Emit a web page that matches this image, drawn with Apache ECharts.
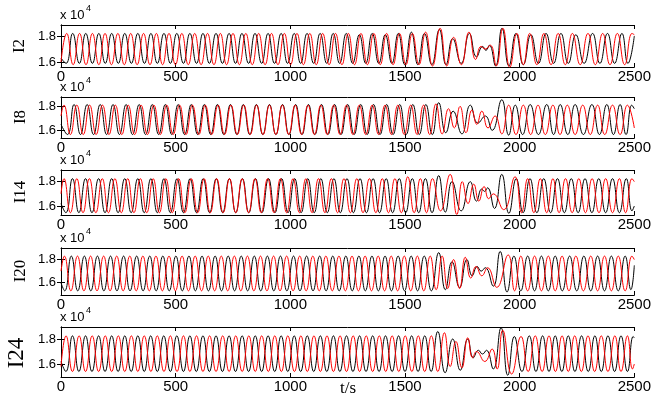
<!DOCTYPE html>
<html><head><meta charset="utf-8">
<script src="https://cdn.jsdelivr.net/npm/echarts@6/dist/echarts.min.js"></script>
<style>html,body{margin:0;padding:0;background:#fff}#c{width:654px;height:398px}</style>
</head><body><div id="c"></div>
<script>
// values in units of 1e4, time in s
const xTicks = [0, 500, 1000, 1500, 2000, 2500];
const yTicks = [1.6, 1.8];
const panelNames = ['I2', 'I8', 'I14', 'I20', 'I24'];

const i2Black = [[0,1.63],[22,1.59],[51,1.82],[80,1.59],[108,1.82],[137,1.59],[165,1.82],[193,1.59],[221,1.82],[250,1.59],[278,1.82],[307,1.59],[335,1.82],[364,1.59],[392,1.82],[420,1.59],[449,1.82],[477,1.59],[505,1.82],[534,1.59],[562,1.82],[591,1.59],[619,1.82],[647,1.59],[676,1.82],[704,1.59],[733,1.82],[761,1.59],[789,1.82],[818,1.59],[846,1.82],[875,1.59],[903,1.82],[931,1.59],[960,1.82],[988,1.59],[1017,1.82],[1045,1.59],[1073,1.82],[1102,1.59],[1130,1.82],[1159,1.59],[1187,1.82],[1215,1.59],[1244,1.82],[1272,1.59],[1301,1.81],[1329,1.59],[1357,1.82],[1386,1.59],[1414,1.81],[1443,1.59],[1471,1.82],[1499,1.58],[1528,1.83],[1556,1.58],[1585,1.82],[1617,1.58],[1650,1.85],[1679,1.58],[1708,1.78],[1745,1.59],[1781,1.82],[1812,1.64],[1839,1.72],[1853,1.69],[1868,1.73],[1895,1.57],[1923,1.86],[1953,1.57],[1984,1.82],[2016,1.58],[2049,1.81],[2082,1.59],[2115,1.82],[2148,1.59],[2180,1.82],[2212,1.59],[2245,1.81],[2281,1.59],[2318,1.82],[2350,1.59],[2383,1.82],[2414,1.59],[2446,1.82],[2472,1.59],[2500,1.80]];
const i2Red = [[0,1.60],[25,1.82],[53,1.58],[81,1.82],[109,1.58],[137,1.82],[165,1.58],[192,1.82],[220,1.58],[248,1.82],[276,1.58],[304,1.82],[332,1.58],[360,1.82],[388,1.58],[416,1.82],[443,1.58],[471,1.82],[499,1.58],[527,1.82],[555,1.58],[583,1.82],[611,1.58],[639,1.82],[667,1.58],[695,1.82],[722,1.58],[750,1.82],[778,1.58],[806,1.82],[834,1.58],[862,1.82],[890,1.58],[918,1.82],[946,1.58],[974,1.82],[1001,1.58],[1029,1.82],[1057,1.58],[1085,1.82],[1113,1.58],[1141,1.82],[1169,1.58],[1197,1.82],[1225,1.58],[1253,1.82],[1280,1.58],[1308,1.82],[1336,1.58],[1364,1.82],[1392,1.58],[1420,1.82],[1448,1.58],[1476,1.82],[1504,1.58],[1532,1.82],[1561,1.58],[1590,1.83],[1620,1.57],[1653,1.86],[1682,1.57],[1712,1.79],[1746,1.58],[1779,1.83],[1808,1.62],[1832,1.72],[1850,1.70],[1872,1.73],[1898,1.57],[1927,1.86],[1957,1.56],[1988,1.82],[2016,1.58],[2044,1.82],[2075,1.58],[2106,1.82],[2137,1.58],[2168,1.82],[2199,1.58],[2230,1.82],[2264,1.58],[2298,1.82],[2330,1.58],[2362,1.82],[2394,1.58],[2426,1.82],[2458,1.58],[2490,1.82],[2500,1.81]];

const i8Black = [[0,1.65],[28,1.565],[57,1.815],[85,1.565],[114,1.815],[142,1.565],[171,1.815],[199,1.565],[227,1.815],[255,1.565],[284,1.815],[312,1.565],[341,1.815],[369,1.565],[398,1.815],[426,1.565],[455,1.815],[483,1.565],[511,1.815],[539,1.565],[568,1.815],[596,1.565],[625,1.815],[653,1.565],[682,1.815],[710,1.565],[739,1.815],[767,1.565],[795,1.815],[823,1.565],[852,1.815],[880,1.565],[909,1.815],[937,1.565],[966,1.815],[994,1.565],[1023,1.815],[1051,1.565],[1079,1.815],[1107,1.565],[1136,1.815],[1164,1.565],[1193,1.815],[1221,1.565],[1250,1.815],[1278,1.565],[1307,1.815],[1335,1.565],[1363,1.815],[1391,1.565],[1420,1.815],[1448,1.565],[1477,1.815],[1505,1.565],[1534,1.815],[1562,1.565],[1591,1.815],[1619,1.565],[1647,1.83],[1678,1.58],[1710,1.76],[1748,1.57],[1785,1.81],[1818,1.66],[1850,1.72],[1880,1.60],[1922,1.855],[1952,1.56],[1981,1.81],[2013,1.565],[2046,1.815],[2082,1.565],[2118,1.815],[2148,1.565],[2177,1.815],[2210,1.565],[2242,1.815],[2278,1.565],[2315,1.815],[2348,1.565],[2380,1.815],[2409,1.565],[2438,1.815],[2464,1.565],[2489,1.81],[2500,1.78]];
const i8Red = [[0,1.72],[13,1.81],[41,1.565],[69,1.81],[97,1.565],[125,1.81],[153,1.565],[181,1.81],[209,1.565],[237,1.81],[265,1.565],[293,1.81],[321,1.565],[349,1.81],[377,1.565],[405,1.81],[433,1.565],[461,1.81],[489,1.565],[517,1.81],[545,1.565],[573,1.81],[601,1.565],[629,1.81],[657,1.565],[685,1.81],[713,1.565],[741,1.81],[769,1.565],[797,1.81],[825,1.565],[853,1.81],[881,1.565],[909,1.81],[937,1.565],[965,1.81],[993,1.565],[1021,1.81],[1049,1.565],[1077,1.81],[1105,1.565],[1133,1.81],[1161,1.565],[1189,1.81],[1217,1.565],[1245,1.81],[1273,1.565],[1301,1.81],[1329,1.565],[1357,1.81],[1385,1.565],[1413,1.81],[1441,1.565],[1469,1.81],[1497,1.565],[1525,1.81],[1553,1.565],[1581,1.81],[1608,1.565],[1635,1.82],[1662,1.57],[1690,1.78],[1715,1.62],[1740,1.80],[1766,1.58],[1792,1.77],[1813,1.65],[1835,1.76],[1862,1.62],[1893,1.72],[1922,1.57],[1952,1.81],[1984,1.565],[2016,1.81],[2048,1.565],[2080,1.81],[2112,1.565],[2145,1.81],[2176,1.565],[2208,1.81],[2242,1.565],[2275,1.81],[2308,1.565],[2340,1.81],[2371,1.565],[2405,1.81],[2438,1.565],[2470,1.81],[2500,1.62]];

const i14Black = [[0,1.62],[21,1.545],[50,1.825],[78,1.545],[107,1.825],[135,1.545],[164,1.825],[192,1.545],[221,1.825],[249,1.545],[278,1.825],[306,1.545],[335,1.825],[363,1.545],[392,1.825],[420,1.545],[449,1.825],[477,1.545],[506,1.825],[534,1.545],[563,1.825],[591,1.545],[620,1.825],[648,1.545],[677,1.825],[705,1.545],[734,1.825],[762,1.545],[791,1.825],[819,1.545],[848,1.825],[876,1.545],[905,1.825],[933,1.545],[962,1.825],[990,1.545],[1019,1.825],[1047,1.545],[1076,1.825],[1104,1.545],[1133,1.825],[1161,1.545],[1190,1.825],[1218,1.545],[1247,1.825],[1275,1.545],[1304,1.825],[1332,1.545],[1361,1.825],[1389,1.545],[1418,1.825],[1446,1.545],[1475,1.825],[1503,1.545],[1532,1.825],[1560,1.545],[1589,1.825],[1618,1.545],[1647,1.85],[1676,1.55],[1705,1.80],[1745,1.56],[1785,1.80],[1812,1.64],[1835,1.74],[1847,1.72],[1860,1.75],[1890,1.58],[1922,1.86],[1953,1.54],[1985,1.825],[2015,1.545],[2045,1.825],[2075,1.545],[2105,1.825],[2135,1.545],[2165,1.825],[2195,1.545],[2225,1.825],[2255,1.545],[2285,1.825],[2315,1.545],[2345,1.825],[2375,1.545],[2405,1.825],[2435,1.545],[2465,1.825],[2490,1.56],[2500,1.60]];
const i14Red = [[0,1.70],[13,1.825],[41,1.545],[69,1.825],[96,1.545],[124,1.825],[152,1.545],[180,1.825],[207,1.545],[235,1.825],[263,1.545],[291,1.825],[318,1.545],[346,1.825],[374,1.545],[402,1.825],[429,1.545],[457,1.825],[485,1.545],[513,1.825],[540,1.545],[568,1.825],[596,1.545],[624,1.825],[651,1.545],[679,1.825],[707,1.545],[735,1.825],[762,1.545],[790,1.825],[818,1.545],[846,1.825],[873,1.545],[901,1.825],[929,1.545],[957,1.825],[984,1.545],[1012,1.825],[1040,1.545],[1068,1.825],[1095,1.545],[1123,1.825],[1151,1.545],[1179,1.825],[1206,1.545],[1234,1.825],[1262,1.545],[1290,1.825],[1317,1.545],[1345,1.825],[1373,1.545],[1401,1.825],[1428,1.545],[1456,1.825],[1484,1.545],[1512,1.84],[1540,1.545],[1567,1.825],[1594,1.545],[1620,1.825],[1655,1.56],[1697,1.86],[1726,1.53],[1750,1.80],[1775,1.62],[1800,1.78],[1822,1.64],[1845,1.76],[1865,1.66],[1885,1.70],[1930,1.57],[1980,1.84],[2008,1.545],[2035,1.825],[2062,1.545],[2090,1.825],[2118,1.545],[2145,1.825],[2172,1.545],[2200,1.825],[2229,1.545],[2258,1.825],[2287,1.545],[2316,1.825],[2346,1.545],[2375,1.825],[2405,1.545],[2435,1.825],[2462,1.545],[2490,1.825],[2500,1.80]];

const i20Black = [[0,1.60],[16,1.53],[45,1.83],[73,1.53],[102,1.83],[130,1.53],[159,1.83],[187,1.53],[216,1.83],[244,1.53],[273,1.83],[301,1.53],[330,1.83],[358,1.53],[387,1.83],[415,1.53],[444,1.83],[472,1.53],[501,1.83],[529,1.53],[558,1.83],[586,1.53],[615,1.83],[643,1.53],[672,1.83],[700,1.53],[729,1.83],[757,1.53],[786,1.83],[814,1.53],[843,1.83],[871,1.53],[900,1.83],[928,1.53],[957,1.83],[985,1.53],[1014,1.83],[1042,1.53],[1071,1.83],[1099,1.53],[1128,1.83],[1156,1.53],[1185,1.83],[1213,1.53],[1242,1.83],[1270,1.53],[1299,1.83],[1327,1.53],[1356,1.83],[1384,1.53],[1413,1.83],[1441,1.53],[1470,1.83],[1498,1.53],[1527,1.83],[1555,1.53],[1584,1.83],[1615,1.53],[1647,1.86],[1676,1.54],[1705,1.78],[1738,1.56],[1770,1.80],[1793,1.66],[1815,1.74],[1832,1.70],[1850,1.73],[1885,1.57],[1915,1.87],[1945,1.52],[1975,1.83],[2005,1.53],[2035,1.83],[2065,1.53],[2095,1.83],[2125,1.53],[2155,1.83],[2186,1.53],[2218,1.83],[2249,1.53],[2280,1.83],[2310,1.53],[2340,1.83],[2370,1.53],[2400,1.83],[2430,1.53],[2460,1.83],[2485,1.54],[2500,1.75]];
const i20Red = [[0,1.70],[15,1.83],[43,1.53],[72,1.83],[100,1.53],[129,1.83],[157,1.53],[186,1.83],[214,1.53],[243,1.83],[271,1.53],[300,1.83],[328,1.53],[357,1.83],[385,1.53],[414,1.83],[442,1.53],[471,1.83],[499,1.53],[528,1.83],[556,1.53],[585,1.83],[613,1.53],[642,1.83],[670,1.53],[699,1.83],[727,1.53],[756,1.83],[784,1.53],[813,1.83],[841,1.53],[870,1.83],[898,1.53],[927,1.83],[955,1.53],[984,1.83],[1012,1.53],[1041,1.83],[1069,1.53],[1098,1.83],[1126,1.53],[1155,1.83],[1183,1.53],[1212,1.83],[1240,1.53],[1269,1.83],[1297,1.53],[1326,1.83],[1354,1.53],[1383,1.83],[1411,1.53],[1440,1.83],[1468,1.53],[1497,1.83],[1525,1.53],[1554,1.83],[1582,1.53],[1610,1.83],[1636,1.54],[1662,1.83],[1686,1.55],[1712,1.80],[1738,1.55],[1763,1.82],[1787,1.64],[1810,1.74],[1835,1.66],[1860,1.73],[1900,1.56],[1950,1.84],[1978,1.53],[2005,1.83],[2035,1.53],[2065,1.83],[2095,1.53],[2125,1.83],[2155,1.53],[2185,1.83],[2215,1.53],[2245,1.83],[2278,1.53],[2310,1.83],[2340,1.53],[2370,1.83],[2400,1.53],[2430,1.83],[2460,1.53],[2490,1.83],[2500,1.80]];

const i24Black = [[0,1.62],[21,1.54],[50,1.825],[78,1.54],[107,1.825],[135,1.54],[164,1.825],[192,1.54],[221,1.825],[249,1.54],[278,1.825],[306,1.54],[335,1.825],[363,1.54],[391,1.825],[420,1.54],[448,1.825],[477,1.54],[505,1.825],[534,1.54],[562,1.825],[590,1.54],[619,1.825],[647,1.54],[676,1.825],[704,1.54],[733,1.825],[761,1.54],[790,1.825],[818,1.54],[847,1.825],[875,1.54],[903,1.825],[932,1.54],[960,1.825],[989,1.54],[1017,1.825],[1045,1.54],[1074,1.825],[1102,1.54],[1131,1.825],[1159,1.54],[1188,1.825],[1216,1.54],[1245,1.825],[1273,1.54],[1302,1.825],[1330,1.54],[1359,1.825],[1387,1.54],[1415,1.825],[1444,1.54],[1472,1.825],[1500,1.54],[1529,1.825],[1557,1.54],[1586,1.825],[1614,1.54],[1643,1.86],[1675,1.53],[1708,1.80],[1741,1.55],[1774,1.80],[1798,1.65],[1820,1.71],[1838,1.68],[1855,1.71],[1885,1.56],[1919,1.89],[1948,1.51],[1977,1.82],[2010,1.54],[2042,1.825],[2071,1.54],[2100,1.825],[2128,1.54],[2155,1.825],[2184,1.54],[2212,1.825],[2241,1.54],[2270,1.825],[2299,1.54],[2328,1.825],[2356,1.54],[2385,1.825],[2414,1.54],[2442,1.825],[2470,1.54],[2495,1.82],[2500,1.81]];
const i24Red = [[0,1.58],[22,1.825],[50,1.54],[79,1.825],[107,1.54],[136,1.825],[164,1.54],[193,1.825],[221,1.54],[250,1.825],[278,1.54],[307,1.825],[335,1.54],[363,1.825],[392,1.54],[420,1.825],[449,1.54],[477,1.825],[506,1.54],[534,1.825],[562,1.54],[591,1.825],[619,1.54],[648,1.825],[676,1.54],[705,1.825],[733,1.54],[762,1.825],[790,1.54],[819,1.825],[847,1.54],[875,1.825],[904,1.54],[932,1.825],[961,1.54],[989,1.825],[1018,1.54],[1046,1.825],[1074,1.54],[1103,1.825],[1131,1.54],[1160,1.825],[1188,1.54],[1217,1.825],[1245,1.54],[1274,1.825],[1302,1.54],[1331,1.825],[1359,1.54],[1388,1.825],[1416,1.54],[1444,1.825],[1473,1.54],[1501,1.825],[1530,1.54],[1558,1.825],[1586,1.54],[1615,1.825],[1643,1.54],[1672,1.85],[1697,1.58],[1722,1.78],[1748,1.57],[1774,1.81],[1795,1.65],[1812,1.70],[1848,1.62],[1880,1.72],[1902,1.56],[1926,1.87],[1965,1.52],[2006,1.82],[2037,1.54],[2068,1.825],[2098,1.54],[2128,1.825],[2156,1.54],[2185,1.825],[2212,1.54],[2240,1.825],[2269,1.54],[2298,1.825],[2327,1.54],[2356,1.825],[2385,1.54],[2415,1.825],[2442,1.54],[2470,1.825],[2492,1.56],[2500,1.60]];

const blackSeries = [i2Black, i8Black, i14Black, i20Black, i24Black];
const redSeries = [i2Red, i8Red, i14Red, i20Red, i24Red];
const yMins = [1.562, 1.536, 1.526, 1.494, 1.496];
const yMaxs = [1.885, 1.878, 1.896, 1.900, 1.896];

// layout (pixels)
const layout = [
  {top: 25, height: 42, nameX: 20, nameY: 46, nameSize: 17},
  {top: 97, height: 41, nameX: 21, nameY: 117, nameSize: 17},
  {top: 170, height: 45, nameX: 21, nameY: 192, nameSize: 17},
  {top: 248, height: 47, nameX: 21, nameY: 271, nameSize: 17},
  {top: 327, height: 50, nameX: 17, nameY: 353, nameSize: 23}
];
const LEFT = 61, RIGHT = 18;
const sans = 'Liberation Sans, Arial, Helvetica, sans-serif';
const serif = 'Liberation Serif, Times New Roman, serif';

const grids = [], xAxes = [], yAxes = [], series = [], graphics = [];
const axLine = {show: true, lineStyle: {color: '#000', width: 1}};
const n = layout.length;
layout.forEach((L, i) => {
  grids.push({left: LEFT, right: RIGHT, top: L.top, height: L.height, containLabel: false});
  xAxes.push({type: 'value', gridIndex: i, min: xTicks[0], max: xTicks[xTicks.length - 1], interval: xTicks[1] - xTicks[0],
    axisLine: axLine, axisTick: {inside: true, length: 4, lineStyle: {color: '#000'}},
    axisLabel: {color: '#000', fontSize: 15, margin: 2, fontFamily: sans, formatter: v => String(v)}, splitLine: {show: false}});
  yAxes.push({type: 'value', gridIndex: i, min: yMins[i], max: yMaxs[i],
    axisLine: axLine, axisTick: {inside: true, length: 4, customValues: yTicks, lineStyle: {color: '#000'}},
    axisLabel: {customValues: yTicks, formatter: v => v.toFixed(1), color: '#000', fontSize: 13, margin: 5, fontFamily: sans},
    splitLine: {show: false}});
  graphics.push({type: 'text', x: LEFT - 1, y: L.top - 10, style: {text: 'x 10', fontSize: 13, fontFamily: sans, fill: '#000', textVerticalAlign: 'middle'}});
  graphics.push({type: 'text', x: LEFT + 25, y: L.top - 16, style: {text: '4', fontSize: 9, fontFamily: sans, fill: '#000', textVerticalAlign: 'middle'}});
  graphics.push({type: 'text', x: L.nameX, y: L.nameY, rotation: Math.PI / 2,
    style: {text: panelNames[i], fontSize: L.nameSize, fontFamily: serif, fill: '#000', textAlign: 'center', textVerticalAlign: 'middle'}});
});
layout.forEach((L, i) => {
  xAxes.push({type: 'value', gridIndex: i, position: 'top', min: xTicks[0], max: xTicks[xTicks.length - 1], interval: xTicks[1] - xTicks[0],
    axisLine: axLine, axisTick: {inside: true, length: 4, lineStyle: {color: '#000'}}, axisLabel: {show: false}, splitLine: {show: false}});
  yAxes.push({type: 'value', gridIndex: i, position: 'right', min: yMins[i], max: yMaxs[i],
    axisLine: axLine, axisTick: {inside: true, length: 4, customValues: yTicks, lineStyle: {color: '#000'}},
    axisLabel: {show: false}, splitLine: {show: false}});
});
for (let i = 0; i < n; i++) {
  series.push({type: 'line', xAxisIndex: i, yAxisIndex: i, data: blackSeries[i], smooth: 0.5, showSymbol: false,
    lineStyle: {color: '#000', width: 1}, itemStyle: {color: '#000'}, z: 2});
  series.push({type: 'line', xAxisIndex: i, yAxisIndex: i, data: redSeries[i], smooth: 0.5, showSymbol: false,
    lineStyle: {color: '#f00', width: 1}, itemStyle: {color: '#f00'}, z: 3});
}
graphics.push({type: 'text', x: 348, y: 389, style: {text: 't/s', fontSize: 17, fontFamily: serif, fill: '#000', textAlign: 'center', textVerticalAlign: 'middle'}});

const chart = echarts.init(document.getElementById('c'), null, {renderer: 'canvas'});
chart.setOption({
  animation: false,
  backgroundColor: '#fff',
  grid: grids, xAxis: xAxes, yAxis: yAxes, series: series, graphic: graphics
});
</script></body></html>
